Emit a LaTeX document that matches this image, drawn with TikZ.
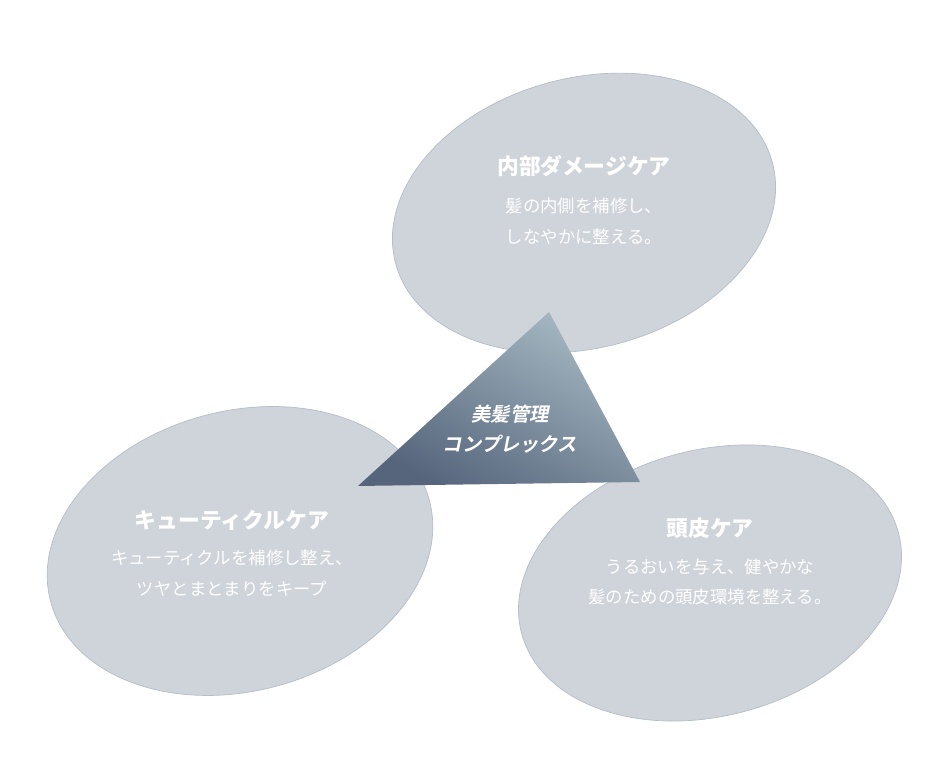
\documentclass[tikz,border=0pt]{standalone}
\usepackage{fontspec}
\setmainfont{Noto Sans CJK JP}
\newfontfamily\slantfont[FakeSlant=0.2,UprightFont=* Bold]{Noto Sans CJK JP}
\definecolor{bubble}{HTML}{CFD3DA}
\definecolor{bubbleline}{HTML}{B3BECA}
\definecolor{tritop}{HTML}{A5B8C2}
\definecolor{tribot}{HTML}{56657C}
\begin{document}
\begin{tikzpicture}[x=0.02cm, y=0.02cm]
\tikzset{bubble/.style={fill=bubble, draw=bubbleline, line width=0.4pt},
  head/.style={text=white, font=\fontsize{12.4}{15}\selectfont\bfseries},
  body/.style={text=white, align=center, font=\fontsize{9.9}{17.5}\selectfont}}
\useasboundingbox (0,0) rectangle (950,776);
% three care areas
\fill[bubble, draw=bubbleline, rotate around={15:(584,563)}] (584,563) ellipse [x radius=195, y radius=135];
\fill[bubble, draw=bubbleline, rotate around={15:(240,225)}] (240,225) ellipse [x radius=196, y radius=140];
\fill[bubble, draw=bubbleline, rotate around={15:(710,193)}] (710,193) ellipse [x radius=195, y radius=133];
% center triangle
\shade[top color=tritop, bottom color=tribot, shading angle=-30]
  (549,464) coordinate (tritip) -- (358,290) coordinate (trileft) -- (640,294) coordinate (triright) -- cycle;
\node[text=white, align=center, font=\fontsize{11}{17}\slantfont] (core) at (510,347) {美髪管理\\コンプレックス};
% labels
\node[head] (inner) at (584,610) {内部ダメージケア};
\node[body] (innertxt) at (584,555) {髪の内側を補修し、\\しなやかに整える。};
\node[head] (cuticle) at (232,256) {キューティクルケア};
\node[body] (cuticletxt) at (232,203) {キューティクルを補修し整え、\\ツヤとまとまりをキープ};
\node[head] (scalp) at (710,248) {頭皮ケア};
\node[body] (scalptxt) at (710,194) {うるおいを与え、健やかな\\髪のための頭皮環境を整える。};
\end{tikzpicture}
\end{document}
